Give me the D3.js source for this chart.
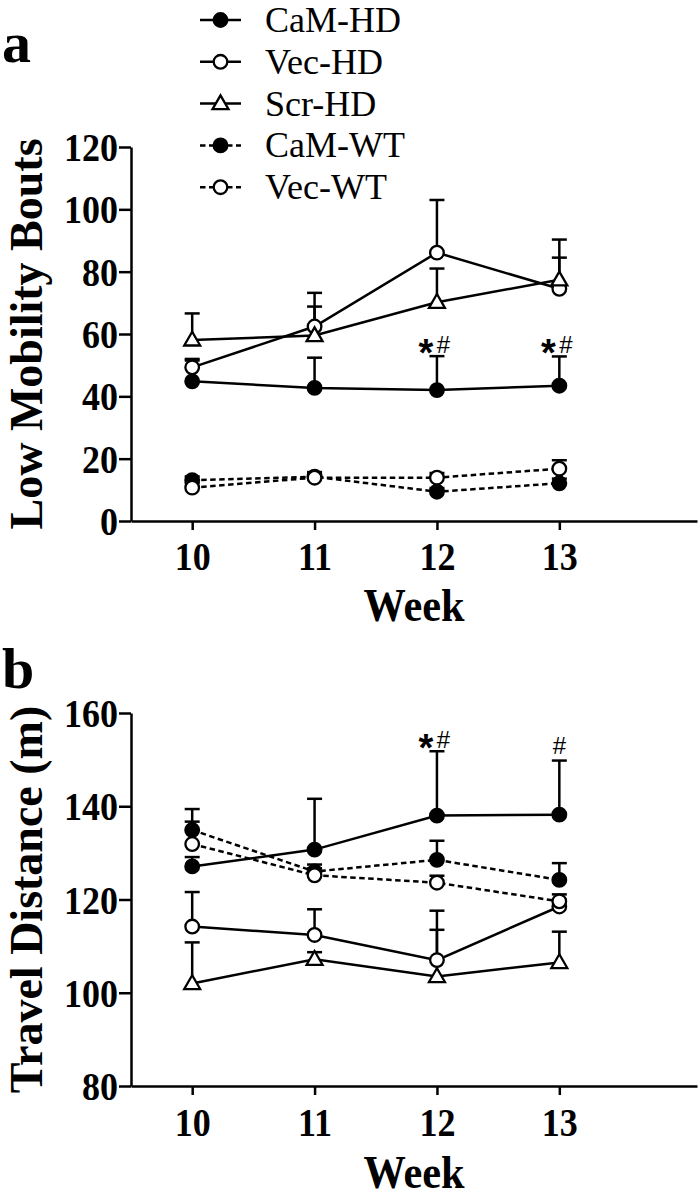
<!DOCTYPE html>
<html>
<head>
<meta charset="utf-8">
<script src="https://cdn.jsdelivr.net/npm/d3@7/dist/d3.min.js"></script>
<style>
  html, body { margin: 0; padding: 0; background: #fff; }
  svg { display: block; }
</style>
</head>
<body>
<svg id="chart" width="699" height="1199"></svg>
<script>
// ---------------- DATA ----------------
const weeks = [10, 11, 12, 13];
const seriesNames = ["CaM-HD", "Vec-HD", "Scr-HD", "CaM-WT", "Vec-WT"];

// Panel a: Low Mobility Bouts (mean, SEM)
const aCaMHD = [44.8, 42.7, 42.0, 43.4];
const aCaMHDsem = [7.2, 9.7, 10.9, 9.4];
const aVecHD = [49.3, 62.4, 86.1, 74.5];
const aVecHDsem = [2.2, 10.8, 16.9, 10.0];
const aScrHD = [58.1, 59.5, 70.2, 77.4];
const aScrHDsem = [8.5, 9.3, 10.8, 12.9];
const aCaMWT = [13.1, 14.2, 9.4, 12.1];
const aCaMWTsem = [1.2, 1.5, 1.2, 1.5];
const aVecWT = [10.7, 13.9, 13.9, 16.8];
const aVecWTsem = [1.5, 1.2, 1.5, 2.7];
const aTicks = [0, 20, 40, 60, 80, 100, 120];
const aSigWeeks = [12, 13];
const aSigLabels = ["*#", "*#"];

// Panel b: Travel Distance (m) (mean, SEM)
const bCaMHD = [127.1, 130.7, 138.0, 138.2];
const bCaMHDsem = [2.0, 10.9, 13.8, 11.6];
const bVecHD = [114.2, 112.4, 107.0, 118.5];
const bVecHDsem = [7.4, 5.5, 10.6, 1.5];
const bScrHD = [102.0, 107.2, 103.5, 106.5];
const bScrHDsem = [8.8, 1.5, 10.0, 6.6];
const bCaMWT = [134.9, 126.0, 128.5, 124.2];
const bCaMWTsem = [1.8, 1.5, 4.1, 3.6];
const bVecWT = [131.9, 125.2, 123.6, 119.6];
const bVecWTsem = [7.5, 1.5, 1.5, 1.5];
const bTicks = [80, 100, 120, 140, 160];
const bSigWeeks = [12, 13];
const bSigLabels = ["*#", "#"];

// ---------------- STYLE ----------------
const SERIF = "'Liberation Serif','Times New Roman',Times,serif";
const SANS = "'Liberation Sans',Arial,sans-serif";
const styles = {
  "CaM-HD": { marker: "circle", fill: "#000", dash: null },
  "Vec-HD": { marker: "circle", fill: "#fff", dash: null },
  "Scr-HD": { marker: "triangle", fill: "#fff", dash: null },
  "CaM-WT": { marker: "circle", fill: "#000", dash: "5.5,3.5" },
  "Vec-WT": { marker: "circle", fill: "#fff", dash: "5.5,3.5" }
};
const LW = 2.5;

const svg = d3.select("#chart");

function drawMarker(g, name, cx, cy) {
  const st = styles[name];
  if (st.marker === "circle") {
    g.append("circle").attr("cx", cx).attr("cy", cy).attr("r", 6.8)
      .attr("fill", st.fill).attr("stroke", "#000").attr("stroke-width", 2.3);
  } else {
    g.append("path")
      .attr("d", d3.symbol(d3.symbolTriangle, 110)())
      .attr("transform", `translate(${cx},${cy + 1})`)
      .attr("fill", st.fill).attr("stroke", "#000").attr("stroke-width", 2.3);
  }
}

function panel(opts) {
  const { yDomain, yRange, ticks, series, sig, yTitle, xLabelY, weekY, letter, letterY } = opts;
  const x = d3.scaleLinear().domain([9.5, 14.125]).range([131, 697]);
  const y = d3.scaleLinear().domain(yDomain).range(yRange);
  const g = svg.append("g");
  const y0 = yRange[0];

  // Y axis
  const yAx = g.append("g").attr("transform", "translate(131,0)")
    .call(d3.axisLeft(y).tickValues(ticks).tickSize(12).tickSizeOuter(0).tickFormat(d3.format("d")));
  yAx.select(".domain").attr("stroke-width", LW);
  yAx.selectAll(".tick line").attr("stroke-width", LW);
  yAx.selectAll(".tick text")
    .attr("x", null).attr("dy", null)
    .attr("transform", "translate(-13,13.5) scale(0.9,1)")
    .attr("text-anchor", "end")
    .attr("font-family", SERIF).attr("font-weight", "bold").attr("font-size", 40).attr("fill", "#000");

  // X axis
  const xAx = g.append("g").attr("transform", `translate(0,${y0})`)
    .call(d3.axisBottom(x).tickValues(weeks).tickSize(9).tickSizeOuter(0).tickFormat(d3.format("d")));
  xAx.select(".domain").attr("stroke-width", LW);
  xAx.selectAll(".tick line").attr("stroke-width", LW);
  xAx.selectAll(".tick text")
    .attr("y", null).attr("dy", null)
    .attr("transform", `translate(0,${xLabelY - y0}) scale(0.9,1)`)
    .attr("font-family", SERIF).attr("font-weight", "bold").attr("font-size", 40).attr("fill", "#000");

  // Titles
  g.append("text").attr("transform", `translate(414,${weekY}) scale(0.92,1)`)
    .attr("text-anchor", "middle").attr("font-family", SERIF).attr("font-weight", "bold")
    .attr("font-size", 46).text("Week");
  g.append("text").attr("transform", `translate(42,${(yRange[0] + yRange[1]) / 2}) rotate(-90)`)
    .attr("text-anchor", "middle").attr("font-family", SERIF).attr("font-weight", "bold")
    .attr("font-size", 46).text(yTitle);
  g.append("text").attr("x", 2).attr("y", letterY).attr("font-family", SERIF)
    .attr("font-weight", "bold").attr("font-size", 58).text(letter);

  // Error bars
  const eb = g.append("g").attr("stroke", "#000").attr("stroke-width", LW);
  series.forEach(s => {
    s.mean.forEach((m, i) => {
      const cx = x(weeks[i]);
      const top = y(m + s.sem[i]);
      eb.append("line").attr("x1", cx).attr("x2", cx).attr("y1", y(m)).attr("y2", top);
      eb.append("line").attr("x1", cx - 7.5).attr("x2", cx + 7.5).attr("y1", top).attr("y2", top);
    });
  });

  // Lines
  const line = d3.line().x((d, i) => x(weeks[i])).y(d => y(d));
  series.forEach(s => {
    g.append("path").attr("d", line(s.mean)).attr("fill", "none")
      .attr("stroke", "#000").attr("stroke-width", LW)
      .attr("stroke-dasharray", styles[s.name].dash);
  });

  // Markers
  const mk = g.append("g");
  series.forEach(s => {
    s.mean.forEach((m, i) => drawMarker(mk, s.name, x(weeks[i]), y(m)));
  });

  // Significance marks
  sig.weeks.forEach((w, k) => {
    const i = weeks.indexOf(w);
    const s = series[0];
    const cx = x(w);
    const cy = y(s.mean[i] + s.sem[i]) - 12;
    const lab = sig.labels[k];
    if (lab.includes("*")) {
      g.append("text").attr("x", cx - 11).attr("y", cy + 22).attr("text-anchor", "middle")
        .attr("font-family", SANS).attr("font-weight", "bold").attr("font-size", 38).text("*");
      g.append("text").attr("x", cx + 6.5).attr("y", cy + 8.5).attr("text-anchor", "middle")
        .attr("font-family", SANS).attr("font-size", 24).text("#");
    } else {
      g.append("text").attr("x", cx).attr("y", cy + 5).attr("text-anchor", "middle")
        .attr("font-family", SANS).attr("font-size", 24).text("#");
    }
  });
}

panel({
  yDomain: [0, 120], yRange: [521, 147], ticks: aTicks,
  series: [
    { name: "CaM-HD", mean: aCaMHD, sem: aCaMHDsem },
    { name: "Vec-HD", mean: aVecHD, sem: aVecHDsem },
    { name: "Scr-HD", mean: aScrHD, sem: aScrHDsem },
    { name: "CaM-WT", mean: aCaMWT, sem: aCaMWTsem },
    { name: "Vec-WT", mean: aVecWT, sem: aVecWTsem }
  ],
  sig: { weeks: aSigWeeks, labels: aSigLabels },
  yTitle: "Low Mobility Bouts", xLabelY: 570, weekY: 621, letter: "a", letterY: 62
});

panel({
  yDomain: [80, 160], yRange: [1086, 713], ticks: bTicks,
  series: [
    { name: "CaM-HD", mean: bCaMHD, sem: bCaMHDsem },
    { name: "Vec-HD", mean: bVecHD, sem: bVecHDsem },
    { name: "Scr-HD", mean: bScrHD, sem: bScrHDsem },
    { name: "CaM-WT", mean: bCaMWT, sem: bCaMWTsem },
    { name: "Vec-WT", mean: bVecWT, sem: bVecWTsem }
  ],
  sig: { weeks: bSigWeeks, labels: bSigLabels },
  yTitle: "Travel Distance (m)", xLabelY: 1136, weekY: 1188, letter: "b", letterY: 688
});

// Legend
const leg = svg.append("g");
seriesNames.forEach((name, i) => {
  const cy = 20 + i * 41.8;
  leg.append("line").attr("x1", 200).attr("x2", 241).attr("y1", cy).attr("y2", cy)
    .attr("stroke", "#000").attr("stroke-width", LW).attr("stroke-dasharray", styles[name].dash);
  drawMarker(leg, name, 220.5, cy);
  leg.append("text").attr("x", 265).attr("y", cy + 12).attr("font-family", SERIF)
    .attr("font-size", 36).text(name);
});
</script>
</body>
</html>
